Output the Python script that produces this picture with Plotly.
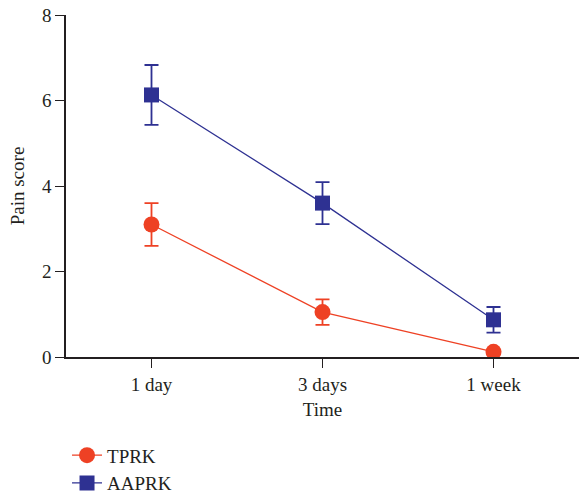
import plotly.graph_objects as go

time_labels = ["1 day", "3 days", "1 week"]
tprk_mean = [3.1, 1.05, 0.12]
tprk_err = [0.5, 0.3, 0.0]
aaprk_mean = [6.13, 3.6, 0.87]
aaprk_err = [0.7, 0.49, 0.3]

RED = "#EE4124"
BLUE = "#2E3192"
FONT = "Liberation Serif"

fig = go.Figure()
fig.add_trace(go.Scatter(
    x=time_labels, y=tprk_mean, name="TPRK", mode="lines+markers",
    line=dict(color=RED, width=1.3),
    marker=dict(symbol="circle", size=16, color=RED),
    error_y=dict(type="data", array=tprk_err, visible=True, color=RED, thickness=1.8, width=7),
))
fig.add_trace(go.Scatter(
    x=time_labels, y=aaprk_mean, name="AAPRK", mode="lines+markers",
    line=dict(color=BLUE, width=1.3),
    marker=dict(symbol="square", size=15, color=BLUE),
    error_y=dict(type="data", array=aaprk_err, visible=True, color=BLUE, thickness=1.8, width=7),
))

fig.update_layout(
    width=579, height=494,
    margin=dict(l=66, r=0, t=15, b=137, autoexpand=False),
    paper_bgcolor="white", plot_bgcolor="white",
    font=dict(family=FONT, size=19, color="#231F20"),
    showlegend=True,
    legend=dict(x=0.002, xanchor="left", y=-0.232, yanchor="top",
                font=dict(size=19), tracegroupgap=0, itemwidth=30,
                borderwidth=0, bgcolor="rgba(0,0,0,0)"),
    xaxis=dict(
        type="category", range=[-0.5, 2.5],
        showline=True, linecolor="#231F20", linewidth=1.5,
        ticks="outside", ticklen=9, tickwidth=1.3, tickcolor="#231F20",
        showgrid=False, zeroline=False,
        title=dict(text="Time", standoff=9, font=dict(size=19)),
        tickfont=dict(size=19),
    ),
    yaxis=dict(
        range=[0, 8], tickvals=[0, 2, 4, 6, 8],
        showline=True, linecolor="#231F20", linewidth=1.5,
        ticks="outside", ticklen=9, tickwidth=1.3, tickcolor="#231F20",
        showgrid=False, zeroline=False,
        title=dict(text="Pain score", standoff=12, font=dict(size=19)),
        tickfont=dict(size=19),
    ),
)

fig.write_html("out.html")
